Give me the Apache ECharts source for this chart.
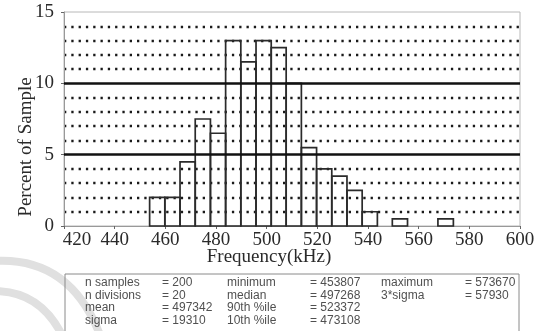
<!DOCTYPE html>
<html>
<head>
<meta charset="utf-8">
<script src="https://cdn.jsdelivr.net/npm/echarts@6/dist/echarts.min.js"></script>
<style>
  html, body { margin: 0; padding: 0; background: #fff; }
  #chart { width: 538px; height: 331px; }
</style>
</head>
<body>
<div id="chart"></div>
<script>
// Histogram bin edges (kHz): 20 divisions between the sample minimum and maximum
const binEdges = [453.8, 459.8, 465.8, 471.8, 477.8, 483.8, 489.8, 495.8, 501.8, 507.7,
                  513.7, 519.7, 525.7, 531.7, 537.7, 543.7, 549.6, 555.6, 561.6, 567.6, 573.7];
// Percent of sample falling into each bin
const binPercent = [2.0, 2.0, 4.5, 7.5, 6.5, 13.0, 11.5, 13.0, 12.5, 10.0,
                    5.5, 4.0, 3.5, 2.5, 1.0, 0.0, 0.5, 0.0, 0.0, 0.5];
// Axis ticks
const xTicks = [420, 440, 460, 480, 500, 520, 540, 560, 580, 600];
const yTicks = [0, 5, 10, 15];
const yEmphasis = [5, 10];

// Summary statistics, column by column
const statNames1 = ['n samples', 'n divisions', 'mean', 'sigma'];
const statValues1 = ['= 200', '= 20', '= 497342', '= 19310'];
const statNames2 = ['minimum', 'median', '90th %ile', '10th %ile'];
const statValues2 = ['= 453807', '= 497268', '= 523372', '= 473108'];
const statNames3 = ['maximum', '3*sigma'];
const statValues3 = ['= 573670', '= 57930'];

const histData = binPercent.map((p, i) => [binEdges[i], binEdges[i + 1], p]);

const serif = '"Liberation Serif", "DejaVu Serif", serif';
const sans = '"Liberation Sans", Arial, sans-serif';

// Split-line colours cycle through 0..15; heavy lines at 5 and 10 come from markLine
const gridColors = [];
for (let v = 0; v <= 15; v++) {
  gridColors.push((v % 5 === 0) ? 'rgba(0,0,0,0)' : '#1a1a1a');
}

// Stats table text elements
const statCols = [
  { x: 85, rows: statNames1 }, { x: 162, rows: statValues1 },
  { x: 227, rows: statNames2 }, { x: 310, rows: statValues2 },
  { x: 381, rows: statNames3 }, { x: 465, rows: statValues3 }
];
const statText = [];
statCols.forEach(col => {
  col.rows.forEach((t, r) => {
    statText.push({
      type: 'text', left: col.x, top: 277 + r * 12.5, z: 10,
      style: { text: t, font: '12px ' + sans, fill: '#505050' }
    });
  });
});

const chart = echarts.init(document.getElementById('chart'), null, { renderer: 'canvas' });
chart.setOption({
  animation: false,
  backgroundColor: '#fff',
  grid: { left: 64, right: 18, top: 12, bottom: 105, show: true, borderColor: '#b8b8b8', borderWidth: 1 },
  xAxis: {
    type: 'value', min: xTicks[0], max: xTicks[xTicks.length - 1], interval: 20,
    axisLine: { show: true, lineStyle: { color: '#999', width: 1 } },
    axisTick: { show: true, length: 3, lineStyle: { color: '#666' } },
    axisLabel: {
      margin: 5, color: '#2a2a2a', fontFamily: serif, fontSize: 19,
      // the first label sits a little to the right of its tick
      formatter: v => (v === xTicks[0] ? '{first|' + v + '}' : String(v)),
      rich: { first: { fontFamily: serif, fontSize: 19, color: '#2a2a2a', padding: [0, 0, 0, 26] } }
    },
    splitLine: { show: false }
  },
  yAxis: [
    {
      type: 'value', min: yTicks[0], max: yTicks[yTicks.length - 1], interval: 5,
      axisLine: { show: true, lineStyle: { color: '#999', width: 1 } },
      axisTick: { show: true, length: 3, lineStyle: { color: '#666' } },
      axisLabel: { margin: 10, color: '#2a2a2a', fontFamily: serif, fontSize: 19 },
      splitLine: { show: false }
    },
    {
      type: 'value', min: 0, max: 15, interval: 1, position: 'left',
      axisLine: { show: false }, axisTick: { show: false }, axisLabel: { show: false },
      splitLine: { show: true, lineStyle: { color: gridColors, width: 2.3, type: [2.3, 5] } }
    }
  ],
  graphic: [
    // soft grey swooshes in the lower left corner
    { type: 'bezierCurve', z: 0, shape: { x1: -5, y1: 261, cpx1: 70, cpy1: 257, x2: 100, y2: 335 },
      style: { stroke: '#e0e0e0', lineWidth: 8, fill: null } },
    { type: 'bezierCurve', z: 0, shape: { x1: -5, y1: 291, cpx1: 40, cpy1: 291, x2: 62, y2: 335 },
      style: { stroke: '#e0e0e0', lineWidth: 8, fill: null } },
    { type: 'text', left: 'center', top: 248, z: 10,
      style: { text: 'Frequency(kHz)', font: '19px ' + serif, fill: '#2a2a2a' } },
    { type: 'text', z: 10, x: 26, y: 147, rotation: Math.PI / 2,
      style: { text: 'Percent of Sample', font: '19px ' + serif, fill: '#2a2a2a',
               textAlign: 'center', textVerticalAlign: 'middle' } },
    { type: 'rect', z: 5, shape: { x: 65, y: 274, width: 454, height: 70 },
      style: { fill: null, stroke: '#8a8a8a', lineWidth: 1 } }
  ].concat(statText),
  series: [{
    type: 'custom',
    xAxisIndex: 0, yAxisIndex: 0,
    data: histData,
    encode: { x: [0, 1], y: 2 },
    renderItem: function (params, api) {
      if (api.value(2) <= 0) return null;
      const tl = api.coord([api.value(0), api.value(2)]);
      const br = api.coord([api.value(1), 0]);
      return {
        type: 'rect',
        shape: { x: tl[0], y: tl[1], width: br[0] - tl[0], height: br[1] - tl[1] },
        style: { fill: null, stroke: '#2b2b2b', lineWidth: 1.7 },
        z2: 5
      };
    },
    markLine: {
      silent: true, symbol: 'none', label: { show: false },
      lineStyle: { color: '#111', width: 2.6, type: 'solid' },
      data: yEmphasis.map(v => ({ yAxis: v }))
    }
  }]
});
</script>
</body>
</html>
